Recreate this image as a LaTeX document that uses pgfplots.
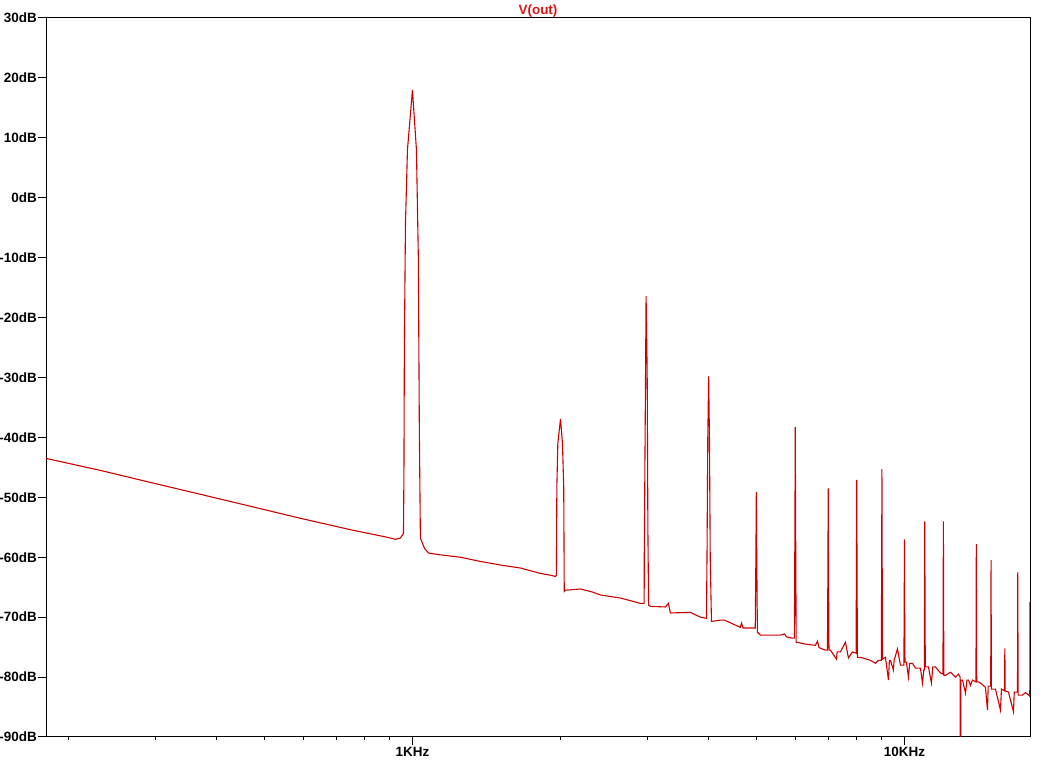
\documentclass[border=0pt]{standalone}
\usepackage{fontspec}
\setmainfont{Liberation Sans}
\usepackage{pgfplots}
\pgfplotsset{compat=1.18}
\definecolor{ltred}{RGB}{204,0,0}
\definecolor{ttlred}{RGB}{220,20,20}
\begin{document}
\begin{tikzpicture}
\useasboundingbox (-46bp,-24bp) rectangle (1003bp,737bp);
\begin{axis}[
  xmode=log, log basis x=10,
  scale only axis, width=984bp, height=719bp,
  xmin=180, xmax=18000, ymin=-90, ymax=30,
  axis line style={line width=1bp, black},
  xtick={1000,10000}, xticklabels={1KHz,10KHz},
  minor xtick={200,300,400,500,600,700,800,900,2000,3000,4000,5000,6000,7000,8000,9000},
  ytick={-90,-80,-70,-60,-50,-40,-30,-20,-10,0,10,20,30},
  yticklabels={-90dB,-80dB,-70dB,-60dB,-50dB,-40dB,-30dB,-20dB,-10dB,0dB,10dB,20dB,30dB},
  minor ytick={},
  tick align=outside, xtick pos=bottom, ytick pos=left,
  major tick length=8bp, minor tick length=3bp,
  every tick/.style={black, line width=1bp},
  ticklabel style={font=\bfseries\fontsize{13.5}{13.5}\selectfont, inner sep=0pt},
  yticklabel style={anchor=east, xshift=-1bp},
  xticklabel style={anchor=north, yshift=-2bp},
  title={V(out)},
  title style={at={(0.5,1)}, anchor=base, yshift=-2bp, inner sep=0pt,
    font=\bfseries\fontsize{13.5}{13.5}\selectfont, text=ttlred},
]
\addplot[ltred, line width=1.1bp, sharp plot, no marks] coordinates {
(180,-43.5) (232,-45.5) (293,-47.5) (371,-49.5) (469,-51.5) (592,-53.5) (748,-55.4)
(881,-56.6) (924,-57.0) (945,-56.8) (959,-56.0)
(961,-45.8) (963,-24.9) (968,-4.2) (977,8.0) (1000,18.0) (1019,8.0) (1028,-9.9)
(1033,-39.3) (1038,-56.8) (1058,-58.5) (1078,-59.3) (1140,-59.6) (1252,-60.0)
(1375,-60.7) (1510,-61.3) (1658,-61.8) (1820,-62.7) (1908,-63.0) (1953,-63.2) (1962,-63.0)
(1966,-48.3) (1975,-41.0) (2000,-36.9) (2018,-41.0) (2030,-48.3) (2035,-65.7)
(2046,-65.5) (2195,-65.3) (2322,-65.8) (2411,-66.3) (2647,-66.8) (2907,-67.7) (2958,-67.7)
(2960,-59.3) (2970,-42.1) (2985,-16.4) (3000,-29.3) (3010,-55.1) (3020,-68.0)
(3045,-68.2) (3267,-68.3) (3313,-67.7) (3344,-69.3) (3673,-69.2) (3849,-70.0) (3960,-70.2)
(3970,-60.2) (3985,-40.0) (4000,-29.8) (4015,-40.0) (4030,-60.2) (4053,-70.7)
(4227,-70.5) (4307,-70.5) (4642,-71.7) (4664,-71.0) (4700,-71.8) (4933,-71.8)
(4975,-71.8) (4990,-60.0) (5000,-49.1) (5010,-60.0) (5025,-72.5)
(5097,-73.0) (5342,-73.0) (5598,-73.0) (5703,-72.8) (5760,-73.3) (5921,-73.5)
(5975,-73.5) (5990,-55.0) (6000,-38.3) (6010,-55.0) (6025,-74.2)
(6061,-74.2) (6292,-74.5) (6595,-74.7) (6657,-74.0) (6700,-75.0) (6751,-75.2) (6910,-75.5)
(6975,-75.5) (6990,-62.0) (7000,-48.5) (7010,-62.0) (7025,-75.5)
(7074,-75.5) (7276,-77.0) (7300,-75.8) (7413,-75.8) (7589,-74.2) (7696,-76.8) (7841,-75.8)
(7975,-76.0) (7990,-62.0) (8000,-47.1) (8010,-62.0) (8025,-76.7)
(8138,-76.7) (8528,-77.2) (8731,-77.7) (8855,-77.2)
(8975,-77.2) (8990,-60.0) (9000,-45.3) (9010,-60.0) (9025,-77.0)
(9150,-76.7) (9280,-80.5) (9320,-77.2) (9366,-77.2) (9497,-78.8) (9530,-77.2) (9678,-75.3) (9815,-78.0)
(9975,-78.0) (9990,-68.0) (10000,-57.0) (10010,-68.0) (10025,-77.5)
(10094,-77.5) (10188,-80.0) (10250,-77.7) (10382,-77.7) (10529,-78.5) (10778,-78.5) (10880,-81.0) (10950,-78.8)
(10975,-78.8) (10990,-66.0) (11000,-54.0) (11010,-66.0) (11025,-78.3)
(11189,-78.3) (11347,-81.0) (11420,-78.3) (11561,-78.3) (11836,-79.3)
(11975,-79.5) (11990,-66.0) (12000,-54.0) (12010,-66.0) (12025,-79.7)
(12119,-79.7) (12407,-79.2) (12701,-80.0) (12880,-79.5)
(12975,-80.0) (12990,-95.0) (13010,-95.0) (13025,-80.5)
(13124,-80.5) (13310,-82.7) (13400,-80.5) (13498,-80.5) (13624,-81.4) (13751,-80.5)
(13975,-80.8) (13990,-68.0) (14000,-57.8) (14010,-68.0) (14025,-80.8)
(14142,-80.8) (14275,-81.0) (14611,-81.7) (14749,-85.5) (14800,-81.5)
(14975,-81.5) (14990,-70.0) (15000,-60.5) (15010,-70.0) (15025,-82.0)
(15311,-82.0) (15674,-85.5) (15750,-82.0) (15975,-82.3)
(15990,-78.0) (16000,-75.2) (16010,-78.0) (16025,-82.3)
(16275,-82.5) (16658,-85.8) (16720,-82.5) (16975,-82.5)
(16990,-72.0) (17000,-62.5) (17010,-72.0) (17025,-83.0)
(17377,-83.0) (17622,-82.6) (17900,-83.0) (17980,-83.2)
(17995,-75.0) (18000,-67.5)
};
\end{axis}
\end{tikzpicture}
\end{document}
